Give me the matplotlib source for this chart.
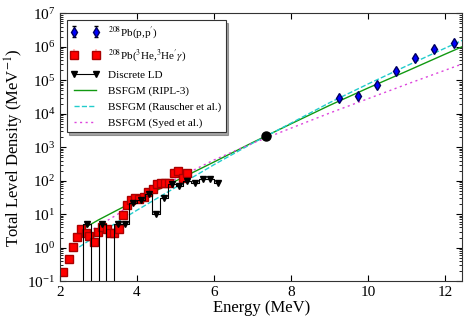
import numpy as np
import matplotlib
matplotlib.use("Agg")
import matplotlib.pyplot as plt

plt.rcParams['font.family'] = ['Liberation Serif', 'DejaVu Serif']
plt.rcParams['mathtext.fontset'] = 'stix'

# 208Pb(p,p') points
pp_e = [9.25, 9.73, 10.23, 10.73, 11.23, 11.72, 12.23]
pp_rho = [2.9e4, 3.5e4, 7.2e4, 1.9e5, 4.6e5, 8.5e5, 1.26e6]

# 208Pb(3He,3He'g) points
he_e = [2.09, 2.22, 2.33, 2.44, 2.54, 2.68, 2.76, 2.89, 2.99, 3.09,
        3.21, 3.31, 3.41, 3.52, 3.64, 3.75, 3.85, 3.95, 4.06, 4.18,
        4.29, 4.41, 4.51, 4.61, 4.73, 4.84, 4.95, 5.07, 5.19, 5.29]
he_rho = [0.19, 0.47, 1.07, 2.1, 3.6, 2.7, 2.2, 1.45, 2.9, 4.1,
          3.5, 2.7, 2.7, 3.7, 9.4, 18.6, 26, 31, 29, 33,
          45, 56, 79, 88, 84, 88, 166, 200, 117, 173]

# discrete levels, 0.2 MeV bins
ld_e = [2.5, 2.7, 2.9, 3.1, 3.3, 3.5, 3.7, 3.9, 4.1, 4.3,
        4.5, 4.7, 4.9, 5.1, 5.3, 5.5, 5.7, 5.9, 6.1]
ld_rho = [0, 5, 0, 5, 0, 5, 5, 21, 27, 41,
          10, 30, 78, 69, 100, 84, 110, 115, 84]

# neutron resonance point
sn_e = [7.35]
sn_rho = [2.2e3]

# BSFGM curves (log10 of density)
bs_e = [2.5, 3.0, 3.5, 4.0, 5.0, 6.0, 7.0, 8.0, 9.0, 10.0, 11.0, 12.0, 12.5]
ripl_log = [0.50, 0.83, 1.13, 1.42, 1.99, 2.56, 3.14, 3.70, 4.25, 4.77, 5.27, 5.78, 6.03]
rau_log = [0.02, 0.40, 0.77, 1.12, 1.80, 2.48, 3.12, 3.72, 4.33, 4.89, 5.43, 5.96, 6.22]
syed_log = [0.30, 0.65, 1.00, 1.45, 2.05, 2.62, 3.12, 3.57, 4.02, 4.45, 4.88, 5.30, 5.51]

fig = plt.figure(figsize=(4.69, 3.25), dpi=100)
ax = fig.add_axes([0.128, 0.135, 0.858, 0.824])

pp_err = np.array(pp_rho) * 0.12
h_pp = ax.errorbar(pp_e, pp_rho, yerr=pp_err, fmt='d', color='blue', mec='#000060',
                   ms=5.5, ecolor='black', elinewidth=0.8, capsize=1.5, zorder=4)

he_err = np.array(he_rho) * 0.15
h_he = ax.errorbar(he_e, he_rho, yerr=he_err, fmt='s', color='red', mec='#aa0000',
                   ms=5.5, ecolor=(1, 0.5, 0.5, 0.5), elinewidth=1.5, capsize=0,
                   zorder=2)

ld_e = np.array(ld_e)
ld_rho = np.array(ld_rho, dtype=float)
ld_plot = np.where(ld_rho > 0, ld_rho, 1e-5)
ax.plot(ld_e, ld_plot, drawstyle='steps-mid', color='black', lw=0.8, zorder=3)
nz = ld_rho > 0
ax.plot(ld_e[nz], ld_rho[nz], 'v', color='black', ms=5, zorder=3)
h_ld, = ax.plot([], [], 'v-', color='black', ms=5, lw=0.8)

ax.plot(sn_e, sn_rho, 'o', color='black', ms=6.5, zorder=4)

h_ripl, = ax.plot(bs_e, 10 ** np.array(ripl_log), '-', color='#119911', lw=1.0)
h_rau, = ax.plot(bs_e, 10 ** np.array(rau_log), '--', color='#22cccc', lw=1.0)
h_syed, = ax.plot(bs_e, 10 ** np.array(syed_log), '-.', color='#dd44dd', lw=1.0,
                  dashes=(1.5, 2.5, 1.5, 2.5))

ax.set_yscale('log')
ax.set_xlim(2, 12.45)
ax.set_ylim(0.1, 1e7)
ax.set_xticks([2, 4, 6, 8, 10, 12])
ax.tick_params(which='both', direction='in', top=True, right=True, labelsize=11)
ax.tick_params(which='major', length=4)
ax.tick_params(which='minor', length=2)
for s in ax.spines.values():
    s.set_color('#333333')

ax.set_xlabel('Energy (MeV)', fontsize=12, labelpad=1)
ax.set_ylabel(r'Total Level Density (MeV$^{-1}$)', fontsize=12, labelpad=1)

handles = [h_pp, h_he, h_ld, h_ripl, h_rau, h_syed]
labels = [r"$^{208}$Pb(p,p$^{\prime}$)",
          r"$^{208}$Pb($^{3}$He,$^{3}$He$^{\prime}\gamma$)",
          'Discrete LD', 'BSFGM (RIPL-3)', 'BSFGM (Rauscher et al.)',
          'BSFGM (Syed et al.)']
leg = ax.legend(handles, labels, loc='upper left', numpoints=2, fontsize=8,
                shadow=True, fancybox=False, framealpha=1, edgecolor='#333333',
                borderaxespad=0.6, handlelength=2.5, labelspacing=0.55)
leg.get_frame().set_linewidth(0.8)

fig.savefig('out.png', dpi=100)
